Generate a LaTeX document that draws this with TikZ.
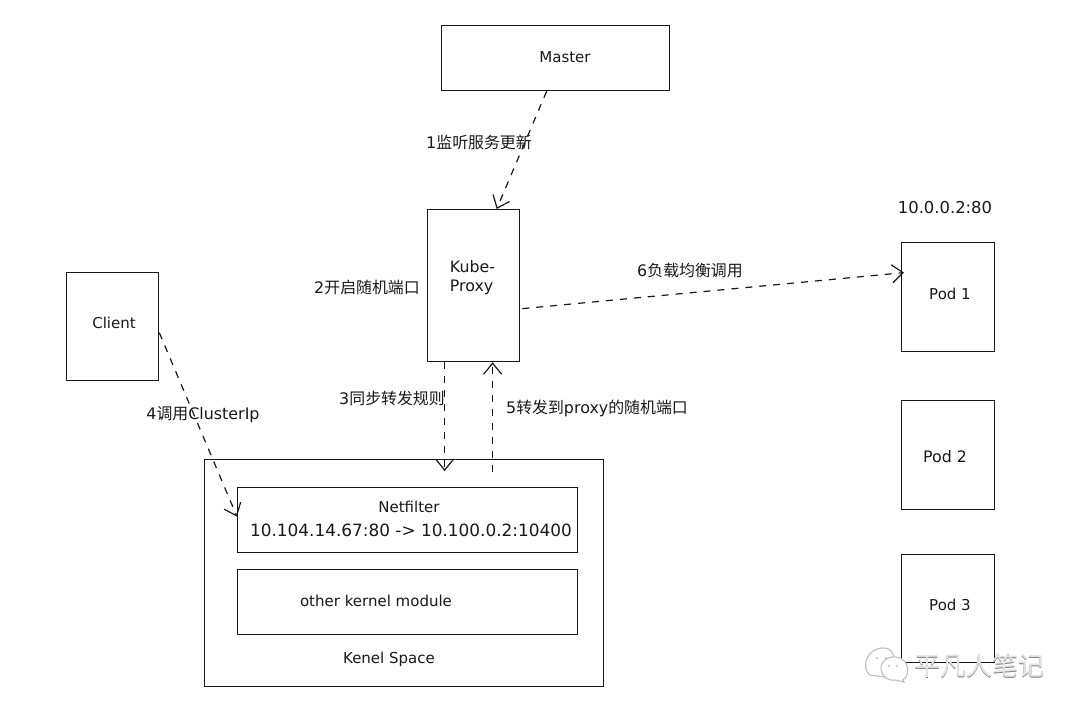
\documentclass[tikz,border=0pt]{standalone}
\usepackage{fontspec}
\setmainfont{DejaVu Sans}
\newfontfamily\cjk{Noto Sans CJK SC}
\usetikzlibrary{arrows.meta,calc}
\tikzset{
  box/.style={draw=black!90,line width=1.3pt,fill=white,inner sep=0pt,anchor=north west},
  lbl/.style={text=black!90,font=\fontsize{15pt}{19pt}\selectfont,inner sep=0pt,align=left},
  podlbl/.style={text=black!90,font=\fontsize{15.8pt}{19pt}\selectfont,inner sep=0pt,align=left},
  cjklbl/.style={text=black!90,font=\fontsize{15.9pt}{19pt}\selectfont,inner sep=0pt,align=left},
  flow/.style={draw=black!90,line width=1.2pt,dash pattern=on 7pt off 7pt,
    -{Straight Barb[length=11pt,width=18pt,line width=1.2pt]}},
  wm/.style={font=\fontsize{26pt}{28pt}\selectfont\cjk,inner sep=0pt},
  bubble/.style={draw=black!25,line width=1.1pt,fill=white}
}
\begin{document}
\begin{tikzpicture}[x=1pt,y=-1pt]
\useasboundingbox (0,0) rectangle (1080,714);
\fill[white] (0,0) rectangle (1080,714);
% boxes
\node[box,minimum width=228pt,minimum height=65pt] (master) at (441,25) {};
\node[box,minimum width=92pt,minimum height=152pt] (kube) at (427,209) {};
\node[box,minimum width=92pt,minimum height=108pt] (client) at (66,272) {};
\node[box,minimum width=93pt,minimum height=109pt] (pod1) at (901,242) {};
\node[box,minimum width=93pt,minimum height=109pt] (pod2) at (901,400) {};
\node[box,minimum width=93pt,minimum height=108pt] (pod3) at (901,554) {};
\node[box,minimum width=399pt,minimum height=227pt] (kernel) at (204,459) {};
\node[box,minimum width=340pt,minimum height=65pt] (netfilter) at (237,487) {};
\node[box,minimum width=340pt,minimum height=65pt] (other) at (237,569) {};
% box texts
\node[lbl] (tmaster) at (565,57) {Master};
\node[podlbl] (tkube) at (472.5,278) {Kube-\\Proxy};
\node[lbl] (tclient) at (114,323) {Client};
\node[lbl] (tpod1) at (950,294) {Pod 1};
\node[podlbl] (tpod2) at (945,457) {Pod 2};
\node[lbl] (tpod3) at (950,605) {Pod 3};
\node[lbl] (tnet) at (409,507) {Netfilter};
\node[lbl,font=\fontsize{16.9pt}{19pt}\selectfont] (trule) at (411,530) {10.104.14.67:80 -> 10.100.0.2:10400};
\node[lbl] (tother) at (376,601) {other kernel module};
\node[lbl] (tkernel) at (389,659) {Kenel Space};
\node[lbl,font=\fontsize{16.4pt}{19pt}\selectfont] (tip) at (945,208) {10.0.0.2:80};
% free ends
\coordinate (in3) at ([xshift=40.5pt,yshift=-12pt]kernel.north);
\coordinate (out5) at ([xshift=88.5pt,yshift=-13pt]kernel.north);
% connectors
\draw[flow] ([xshift=-9pt]master.south) -- ([xshift=23pt]kube.north);
\draw[flow] ([xshift=2pt,yshift=-23pt]kube.east) -- ([xshift=3pt,yshift=24.5pt]pod1.west);
\draw[flow] ([xshift=-29pt]kube.south) -- (in3);
\draw[flow] (out5) -- ([xshift=19pt]kube.south);
\draw[flow] ([yshift=-6pt]client.east) -- ([yshift=3.5pt]netfilter.west);
% connector labels
\node[cjklbl] (l1) at (479,142) {1\cjk 监听服务更新};
\node[cjklbl] (l2) at (367,287) {2\cjk 开启随机端口};
\node[cjklbl] (l3) at (392,398) {3\cjk 同步转发规则};
\node[cjklbl] (l4) at (203,415) {4\cjk 调用\rmfamily ClusterIp};
\node[cjklbl] (l5) at (597,408) {5\cjk 转发到\rmfamily proxy\cjk 的随机端口};
\node[cjklbl] (l6) at (690,270) {6\cjk 负载均衡调用};
% watermark
\draw[bubble] (885,677) -- (870,675) .. controls (862,670) and (864,650) .. (882,648) .. controls (895,647) and (894,660) .. (894,663) -- (885,677);
\draw[bubble] (903,680) -- (904,682) -- (895,680) .. controls (880,682) and (874,660) .. (892,657) .. controls (908,655) and (912,674) .. (903,680) -- cycle;
\fill[black!25] (877,658) circle (1.2pt) (886,658) circle (1.2pt) (889,666) circle (1.1pt) (897,666) circle (1.1pt);
\node[wm,text=black!50] (wmshade) at (979.6,666.6) {平凡人笔记};
\node[wm,text=black!10] (wmark) at (979,666) {平凡人笔记};
\end{tikzpicture}
\end{document}
